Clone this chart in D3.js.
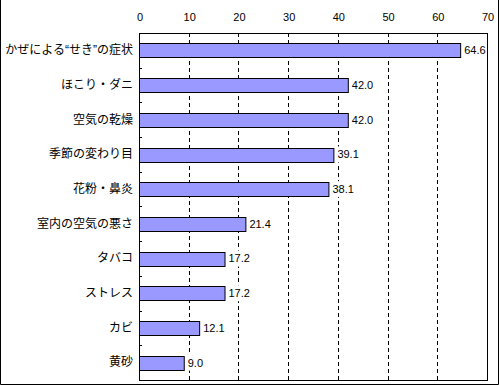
<!DOCTYPE html>
<html>
<head>
<meta charset="utf-8">
<script src="https://cdn.jsdelivr.net/npm/d3@7"></script>
<style>
    body { margin: 0; background: #fff; }
    svg text { font-family: "Liberation Sans", "Noto Sans CJK JP", sans-serif; fill: #000; }
</style>
</head>
<body>
<svg id="chart" width="500" height="385"></svg>
<script>
// categories and percentages
const categories = ['かぜによる“せき”の症状', 'ほこり・ダニ', '空気の乾燥', '季節の変わり目', '花粉・鼻炎',
    '室内の空気の悪さ', 'タバコ', 'ストレス', 'カビ', '黄砂'];
const values = [64.6, 42.0, 42.0, 39.1, 38.1, 21.4, 17.2, 17.2, 12.1, 9.0];
const xTicks = [0, 10, 20, 30, 40, 50, 60, 70];

const svg = d3.select('#chart');
const plot = {left: 139, right: 487, top: 33, bottom: 380};

const x = d3.scaleLinear()
    .domain([0, 70])
    .range([plot.left, plot.right]);

const y = d3.scaleBand()
    .domain(categories)
    .range([plot.top, plot.bottom])
    .paddingInner(0.6)
    .paddingOuter(0.3);

// outer frame (left, right, bottom)
svg.append('path')
    .attr('d', 'M0.5,0V384.5H498.5V0')
    .attr('fill', 'none')
    .attr('stroke', '#000');

// dashed gridlines
svg.append('g')
    .selectAll('line')
    .data(xTicks.slice(1, -1))
    .enter().append('line')
    .attr('x1', d => Math.round(x(d)) + 0.5)
    .attr('x2', d => Math.round(x(d)) + 0.5)
    .attr('y1', plot.top)
    .attr('y2', plot.bottom)
    .attr('stroke', '#000')
    .attr('stroke-dasharray', '4,3');

// top axis labels, no tick marks
const xAxis = d3.axisTop(x)
    .tickValues(xTicks)
    .tickSize(0)
    .tickPadding(0);

svg.append('g')
    .attr('transform', 'translate(0.5, 21)')
    .call(xAxis)
    .call(g => g.select('.domain').remove())
    .selectAll('text')
    .attr('font-size', 11)
    .attr('font-family', null);

// left axis labels with small inner ticks on band boundaries
const yAxis = d3.axisLeft(y).tickSize(0).tickPadding(6);
svg.append('g')
    .attr('transform', `translate(${plot.left}, 0)`)
    .call(yAxis)
    .call(g => g.select('.domain').remove())
    .selectAll('text')
    .attr('font-size', 12)
    .attr('font-family', null);

const step = y.step();
svg.append('g')
    .selectAll('line')
    .data(categories.slice(1))
    .enter().append('line')
    .attr('x1', plot.left)
    .attr('x2', plot.left + 3)
    .attr('y1', d => Math.round(y(d) - step * 0.3) + 0.5)
    .attr('y2', d => Math.round(y(d) - step * 0.3) + 0.5)
    .attr('stroke', '#000');

// bars
svg.append('g')
    .selectAll('rect')
    .data(values)
    .enter().append('rect')
    .attr('x', plot.left + 0.5)
    .attr('y', (d, i) => Math.round(y(categories[i])) + 0.5)
    .attr('width', d => x(d) - plot.left)
    .attr('height', Math.round(y.bandwidth()))
    .attr('fill', '#9999ff')
    .attr('stroke', '#000');

// value labels on white boxes (they hide the gridlines)
const labels = svg.append('g')
    .selectAll('g')
    .data(values)
    .enter().append('g');

labels.append('rect')
    .attr('x', d => x(d) + 2)
    .attr('y', (d, i) => y(categories[i]) + y.bandwidth() / 2 - 8)
    .attr('width', 24)
    .attr('height', 16)
    .attr('fill', '#fff');

labels.append('text')
    .attr('x', d => x(d) + 4)
    .attr('y', (d, i) => y(categories[i]) + y.bandwidth() / 2)
    .attr('dy', '0.35em')
    .attr('font-size', 11)
    .text(d => d.toFixed(1));

// plot area border
svg.append('rect')
    .attr('x', plot.left + 0.5)
    .attr('y', plot.top + 0.5)
    .attr('width', plot.right - plot.left)
    .attr('height', plot.bottom - plot.top)
    .attr('fill', 'none')
    .attr('stroke', '#000');
</script>
</body>
</html>
